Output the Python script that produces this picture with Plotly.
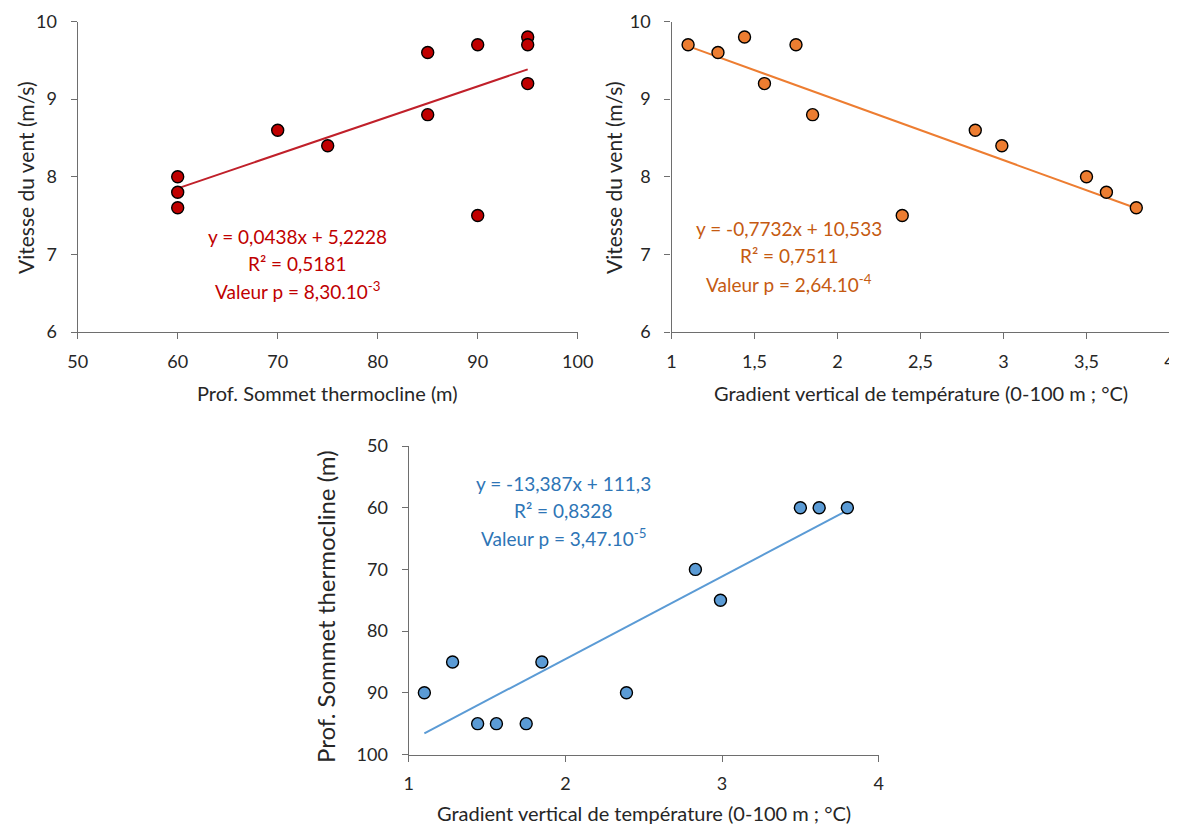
import plotly.graph_objects as go

# Data
depth = [60, 60, 60, 70, 75, 85, 85, 90, 90, 95, 95, 95]
wind_by_depth = [8.0, 7.8, 7.6, 8.6, 8.4, 9.6, 8.8, 9.7, 7.5, 9.8, 9.7, 9.2]

gradient = [1.10, 1.28, 1.44, 1.56, 1.75, 1.85, 2.39, 2.83, 2.99, 3.50, 3.62, 3.80]
wind_by_grad = [9.7, 9.6, 9.8, 9.2, 9.7, 8.8, 7.5, 8.6, 8.4, 8.0, 7.8, 7.6]

grad_b = [1.10, 1.28, 1.44, 1.56, 1.75, 1.85, 2.39, 2.83, 2.99, 3.50, 3.62, 3.80]
depth_b = [90, 85, 95, 95, 95, 85, 90, 70, 75, 60, 60, 60]

# regression coefficients (slope, intercept) as printed
fit1 = (0.0438, 5.2228)
fit2 = (-0.7732, 10.533)
fit3 = (-13.387, 111.3)

eq1 = ["y = 0,0438x + 5,2228", "R² = 0,5181", "Valeur p = 8,30.10<sup>-3</sup>"]
eq2 = ["y = -0,7732x + 10,533", "R² = 0,7511", "Valeur p = 2,64.10<sup>-4</sup>"]
eq3 = ["y = -13,387x + 111,3", "R² = 0,8328", "Valeur p = 3,47.10<sup>-5</sup>"]

xtitle_depth = "Prof. Sommet thermocline (m)"
xtitle_grad = "Gradient vertical de température (0-100 m ; °C)"
ytitle_wind = "Vitesse du vent (m/s)"
ytitle_depth = "Prof. Sommet thermocline (m)"

FONT = "Lato, 'Open Sans', sans-serif"
TXT = "#262626"
red_m, red_l, red_t = "#C00000", "#C0202A", "#C00000"
org_m, org_l, org_t = "#ED7D31", "#ED7D31", "#C55A11"
blu_m, blu_l, blu_t = "#5B9BD5", "#5B9BD5", "#2E75B6"

W, H = 1169, 822
OFF = 8  # page body margin
fig = go.Figure()

def add_panel(x, y, fit, mc, lc, xa, ya):
    x0, x1 = min(x), max(x)
    fig.add_trace(go.Scatter(x=[x0, x1], y=[fit[0]*x0 + fit[1], fit[0]*x1 + fit[1]],
                             mode="lines", xaxis=xa, yaxis=ya,
                             line=dict(color=lc, width=2), showlegend=False))
    fig.add_trace(go.Scatter(x=x, y=y, mode="markers", xaxis=xa, yaxis=ya,
                             marker=dict(size=12, color=mc, line=dict(color="black", width=1.4)),
                             showlegend=False))

add_panel(depth, wind_by_depth, fit1, red_m, red_l, "x", "y")
add_panel(gradient, wind_by_grad, fit2, org_m, org_l, "x2", "y2")
add_panel(grad_b, depth_b, fit3, blu_m, blu_l, "x3", "y3")

axis_common = dict(showgrid=False, zeroline=False, showline=True, linecolor="#6e6e6e",
                   linewidth=1.3, ticks="outside", tickcolor="#6e6e6e", ticklen=6,
                   automargin=False,
                   tickfont=dict(size=18, color=TXT, family=FONT))
xax = dict(axis_common, ticklabelstandoff=7)
yax = dict(axis_common, ticklabelstandoff=10)

def px_x(p):
    return (p - OFF) / W

def px_y(p):
    return 1 - (p - OFF) / H

fig.update_layout(
    width=W, height=H,
    margin=dict(l=0, r=0, t=0, b=0, autoexpand=False),
    paper_bgcolor="white", plot_bgcolor="white",
    font=dict(family=FONT),
    separators=",.",
    xaxis=dict(domain=[px_x(77.7), px_x(577.7)], range=[50, 100], dtick=10, anchor="y", **xax),
    yaxis=dict(domain=[px_y(332), px_y(21.5)], range=[6, 10], dtick=1, anchor="x", **yax),
    xaxis2=dict(domain=[px_x(671.5), px_x(1169.5)], range=[1, 4], dtick=0.5, anchor="y2", **xax),
    yaxis2=dict(domain=[px_y(332), px_y(21.5)], range=[6, 10], dtick=1, anchor="x2", **yax),
    xaxis3=dict(domain=[px_x(408.7), px_x(878.7)], range=[1, 4], dtick=1, anchor="y3", **xax),
    yaxis3=dict(domain=[px_y(754.5), px_y(446)], range=[100, 50], dtick=10, anchor="x3", **yax),
)

def text_ann(xp, yp, text, size, color, angle=0):
    fig.add_annotation(x=px_x(xp), y=px_y(yp), xref="paper", yref="paper", text=text,
                       showarrow=False, xanchor="center", yanchor="middle", textangle=angle,
                       font=dict(size=size, color=color, family=FONT))

# axis titles
text_ann(327.7, 393, xtitle_depth, 20, TXT)
text_ann(920.5, 393, xtitle_grad, 20, TXT)
text_ann(644, 813, xtitle_grad, 20, TXT)
text_ann(26, 178, ytitle_wind, 21, TXT, -90)
text_ann(614, 178, ytitle_wind, 21, TXT, -90)
text_ann(325, 607, ytitle_depth, 24, TXT, -90)

# equations
for (cx, ys, lines, col) in [(297, [236, 263, 290], eq1, red_t),
                             (789, [228, 255, 283], eq2, org_t),
                             (563, [484, 510, 537], eq3, blu_t)]:
    for yy, ln in zip(ys, lines):
        text_ann(cx, yy, ln, 19, col)

fig.write_html("out.html")
